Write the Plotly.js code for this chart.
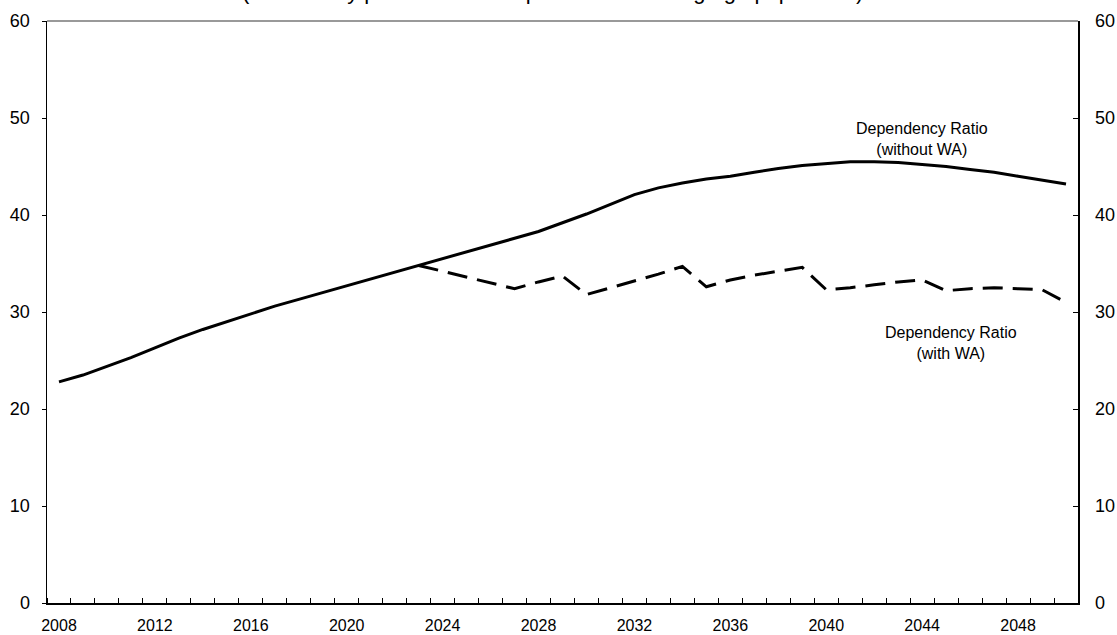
<!DOCTYPE html>
<html>
<head>
<meta charset="utf-8">
<script src="https://cdn.plot.ly/plotly-3.0.1.min.js"></script>
<style>
  html, body { margin: 0; padding: 0; background: #fff; }
  #chart { width: 1117px; height: 635px; }
</style>
</head>
<body>
<div id="chart"></div>
<script>
// years on the x axis
const years = [];
for (let y = 2008; y <= 2050; y++) years.push(y);

const tickYears = [2008, 2012, 2016, 2020, 2024, 2028, 2032, 2036, 2040, 2044, 2048];

// dependency ratio without WA, 2008-2050
const ratioWithout = [
    22.8, 23.5, 24.4, 25.3, 26.3, 27.3, 28.2, 29.0, 29.8, 30.6,
    31.3, 32.0, 32.7, 33.4, 34.1, 34.8, 35.5, 36.2, 36.9, 37.6,
    38.3, 39.2, 40.1, 41.1, 42.1, 42.8, 43.3, 43.7, 44.0, 44.4,
    44.8, 45.1, 45.3, 45.5, 45.5, 45.4, 45.2, 45.0, 44.7, 44.4,
    44.0, 43.6, 43.2
];

// dependency ratio with WA, 2023-2050
const withYears = years.filter(y => y >= 2023);
const ratioWith = [
    34.8, 34.2, 33.6, 33.0, 32.4, 33.1, 33.7, 31.8, 32.5, 33.2,
    33.9, 34.7, 32.6, 33.3, 33.8, 34.2, 34.6, 32.3, 32.5, 32.8,
    33.1, 33.3, 32.2, 32.4, 32.5, 32.4, 32.3, 31.0
];

const fontFamily = "Arial, 'Liberation Sans', sans-serif";

function traces() {
    let solid = {
        x: years, y: ratioWithout, type: 'scatter', mode: 'lines',
        line: { color: '#000', width: 3 }, hoverinfo: 'skip'
    };
    let dashed = {
        x: withYears, y: ratioWith, type: 'scatter', mode: 'lines',
        line: { color: '#000', width: 3, dash: '20px,10px' }, hoverinfo: 'skip'
    };
    // empty trace so the right axis gets drawn
    let right = {
        x: years, y: ratioWithout, type: 'scatter', mode: 'none',
        yaxis: 'y2', hoverinfo: 'skip'
    };
    return [solid, dashed, right];
}

function layout() {
    return {
        width: 1117, height: 635,
        margin: { l: 47, r: 39, t: 21, b: 32 },
        paper_bgcolor: '#fff', plot_bgcolor: '#fff',
        showlegend: false,
        font: { family: fontFamily, color: '#000' },
        xaxis: {
            type: 'linear', range: [2007.5, 2050.5],
            tickmode: 'array', tickvals: tickYears, ticks: '',
            tickfont: { size: 16 },
            showgrid: false, zeroline: false,
            showline: true, linecolor: '#000', linewidth: 1.5,
            ticklabelstandoff: 7,
            minor: { ticks: 'inside', tick0: 2007.5, dtick: 1, ticklen: 5,
                     tickcolor: '#000', tickwidth: 1, showgrid: false }
        },
        yaxis: {
            range: [0, 60], dtick: 10, ticks: 'outside', ticklen: 4,
            tickcolor: '#000', tickfont: { size: 18 },
            showgrid: false, zeroline: false,
            showline: true, linecolor: '#000', linewidth: 1.5,
            ticklabelstandoff: 8
        },
        yaxis2: {
            overlaying: 'y', side: 'right',
            range: [0, 60], dtick: 10, ticks: 'inside', ticklen: 5,
            tickcolor: '#000', tickfont: { size: 18 },
            showgrid: false, zeroline: false,
            showline: true, linecolor: '#000', linewidth: 1.5,
            ticklabelstandoff: 12
        },
        shapes: [{
            type: 'line', xref: 'paper', yref: 'paper',
            x0: 0, x1: 1, y0: 1, y1: 1,
            line: { color: '#777', width: 1.5 }
        }],
        annotations: [
            {
                xref: 'paper', yref: 'paper', x: 0.49, y: 1.05, yanchor: 'middle',
                text: '(Beneficiary pensioners as a percent of working age population)',
                showarrow: false, font: { size: 22 }
            },
            {
                x: 2044, y: 47.8, text: 'Dependency Ratio<br>(without WA)',
                showarrow: false, font: { size: 16 }
            },
            {
                x: 2045.2, y: 26.8, text: 'Dependency Ratio<br>(with WA)',
                showarrow: false, font: { size: 16 }
            }
        ]
    };
}

Plotly.newPlot('chart', traces(), layout(), { staticPlot: true, displayModeBar: false });
</script>
</body>
</html>
